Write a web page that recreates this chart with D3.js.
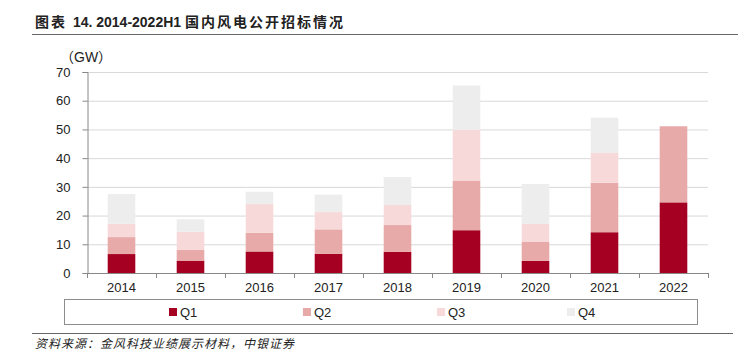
<!DOCTYPE html>
<html>
<head>
<meta charset="utf-8">
<script src="https://cdn.jsdelivr.net/npm/d3@7"></script>
<style>
  body { margin: 0; background: #fff; }
  svg { display: block; font-family: "Liberation Sans", Arial, "Noto Sans CJK SC", sans-serif; }
</style>
</head>
<body>
<svg id="chart"></svg>
<script>
// Data (GW)
const years = ["2014", "2015", "2016", "2017", "2018", "2019", "2020", "2021", "2022"];
const quarters = ["Q1", "Q2", "Q3", "Q4"];
const q1 = [6.6, 4.3, 7.5, 6.7, 7.4, 14.9, 4.2, 14.2, 24.6];
const q2 = [5.9, 3.7, 6.5, 8.5, 9.3, 17.3, 6.6, 17.2, 26.5];
const q3 = [4.7, 6.4, 10.0, 6.0, 7.0, 17.6, 6.3, 10.4, 0];
const q4 = [10.3, 4.3, 4.3, 6.1, 9.7, 15.5, 13.9, 12.3, 0];
const yTicks = [0, 10, 20, 30, 40, 50, 60, 70];
const colors = ["#a50021", "#e8a9a9", "#f7d9d9", "#ededed"];

const width = 738, height = 354;
const margin = { left: 87, right: 30, top: 72, bottom: 81 };

const svg = d3.select("#chart")
    .attr("width", width)
    .attr("height", height);

// Title + rule
const title = svg.append("text")
    .attr("x", 35).attr("y", 27)
    .attr("font-size", 14).attr("font-weight", "bold").attr("fill", "#222");
title.append("tspan").attr("letter-spacing", 2).text("图表 ");
title.append("tspan").text("14. 2014-2022H1 ");
title.append("tspan").attr("letter-spacing", 2).text("国内风电公开招标情况");
svg.append("line")
    .attr("x1", 32).attr("x2", 738).attr("y1", 34.5).attr("y2", 34.5)
    .attr("stroke", "#666").attr("stroke-width", 1.2);

const rows = years.map((y, i) => ({ year: y, Q1: q1[i], Q2: q2[i], Q3: q3[i], Q4: q4[i] }));
const stacked = d3.stack().keys(quarters)(rows);

const x = d3.scaleBand()
    .domain(years)
    .range([margin.left, width - margin.right])
    .paddingInner(0.6)
    .paddingOuter(0.3);

const y = d3.scaleLinear()
    .domain([0, 70])
    .range([height - margin.bottom, margin.top]);

// gridlines
svg.append("g")
    .selectAll("line")
    .data(yTicks.slice(1))
    .join("line")
    .attr("x1", margin.left).attr("x2", width - margin.right)
    .attr("y1", d => y(d) + 0.5).attr("y2", d => y(d) + 0.5)
    .attr("stroke", "#d9d9d9").attr("stroke-width", 1);

// bars
svg.append("g")
    .selectAll("g")
    .data(stacked)
    .join("g")
    .attr("fill", (d, i) => colors[i])
    .selectAll("rect")
    .data(d => d)
    .join("rect")
    .attr("x", d => x(d.data.year))
    .attr("width", x.bandwidth())
    .attr("y", d => y(d[1]))
    .attr("height", d => Math.max(0, y(d[0]) - y(d[1])));

// y axis
const yAxis = svg.append("g")
    .attr("transform", `translate(${margin.left + 0.5},0)`)
    .call(d3.axisLeft(y).tickValues(yTicks).tickSize(5).tickPadding(12));
yAxis.selectAll("line, path").attr("stroke", "#888");
yAxis.selectAll("text").attr("font-size", 13).attr("fill", "#222")
    .attr("font-family", "Liberation Sans, Arial, sans-serif");

// x axis with ticks between categories
const bounds = d3.range(years.length + 1).map(i => margin.left + i * (width - margin.left - margin.right) / years.length);
const xAxis = svg.append("g");
xAxis.append("line")
    .attr("x1", margin.left).attr("x2", width - margin.right)
    .attr("y1", y(0) + 0.5).attr("y2", y(0) + 0.5)
    .attr("stroke", "#888");
xAxis.selectAll("line.tk")
    .data(bounds)
    .join("line")
    .attr("class", "tk")
    .attr("x1", d => Math.round(d) + 0.5).attr("x2", d => Math.round(d) + 0.5)
    .attr("y1", y(0)).attr("y2", y(0) + 5)
    .attr("stroke", "#888");
xAxis.selectAll("text")
    .data(years)
    .join("text")
    .attr("x", d => x(d) + x.bandwidth() / 2)
    .attr("y", y(0) + 19)
    .attr("text-anchor", "middle")
    .attr("font-size", 13).attr("fill", "#222")
    .text(d => d);

// unit
svg.append("text")
    .attr("x", 60).attr("y", 62)
    .attr("font-size", 14).attr("fill", "#222")
    .text("（GW）");

// legend
const legend = svg.append("g");
legend.append("rect")
    .attr("x", 64.5).attr("y", 299.5).attr("width", 633).attr("height", 25)
    .attr("fill", "#fff").attr("stroke", "#8c8c8c");
const legendX = [169, 303, 437, 567];
const items = legend.selectAll("g.item")
    .data(quarters)
    .join("g")
    .attr("class", "item")
    .attr("transform", (d, i) => `translate(${legendX[i]},312)`);
items.append("rect")
    .attr("x", 0).attr("y", -4).attr("width", 8).attr("height", 8)
    .attr("fill", (d, i) => colors[i]);
items.append("text")
    .attr("x", 11).attr("y", 5)
    .attr("font-size", 13).attr("fill", "#222")
    .text(d => d);

// source
svg.append("line")
    .attr("x1", 32).attr("x2", 733).attr("y1", 333.5).attr("y2", 333.5)
    .attr("stroke", "#666").attr("stroke-width", 1.2);
svg.append("text")
    .attr("x", 35).attr("y", 348)
    .attr("font-size", 12).attr("fill", "#222")
    .attr("font-style", "italic")
    .attr("letter-spacing", 1)
    .attr("font-family", "Noto Sans CJK SC, sans-serif")
    .text("资料来源：金风科技业绩展示材料，中银证券");
</script>
</body>
</html>
